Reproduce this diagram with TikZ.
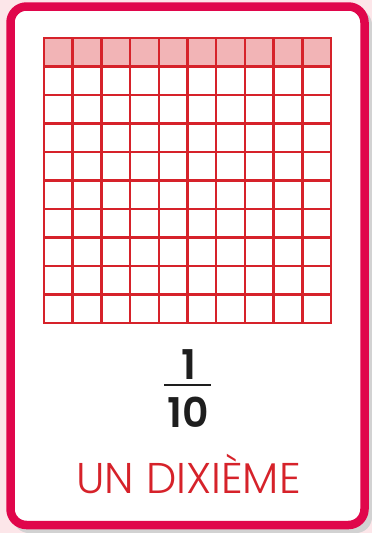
\documentclass[tikz,border=0pt]{standalone}
\usepackage{fontspec}
\setmainfont{Poppins}
\newfontfamily\lightfont{Poppins Light}
\newfontfamily\boldfont{Poppins SemiBold}
\definecolor{cardred}{HTML}{E0064B}
\definecolor{gridred}{HTML}{D6222A}
\definecolor{cellpink}{HTML}{F2B4B6}
\definecolor{bgpink}{HTML}{FCE6E9}
\definecolor{inkdark}{HTML}{1E1E1E}
\tikzset{
  gridline/.style={draw=gridred, line width=2.5pt, line cap=rect},
  cardframe/.style={draw=cardred, line width=8.5pt, rounded corners=16pt, fill=white},
  numtext/.style={font=\boldfont\fontsize{41}{41}\selectfont, text=inkdark, inner sep=0pt},
  labeltext/.style={font=\lightfont\fontsize{43}{43}\selectfont, text=gridred, inner sep=0pt}
}
\begin{document}
\begin{tikzpicture}[x=1pt,y=-1pt]
\useasboundingbox (0,0) rectangle (372,533);
\fill[bgpink] (0,0) rectangle (372,533);
\fill[gray!35] (13,9) [rounded corners=16pt] rectangle (372,533);
\draw[cardframe] (10.5,6.5) rectangle (364.5,525);
% top row fill
\fill[cellpink] (44,38) rectangle (331,66.5);
% grid
\foreach \i in {0,...,10} {
  \draw[gridline] ({44+\i*28.7},38) -- ({44+\i*28.7},323);
  \draw[gridline] (44,{38+\i*28.5}) -- (331,{38+\i*28.5});
}
\node[numtext, anchor=base] (one) at (189,379) {1};
\node[numtext, anchor=base] (ten) at (188,427) {10};
\draw[draw=inkdark, line width=2.4pt] (164,385) -- (211,385);
\node[labeltext, anchor=base] (label) at (188.5,493) {UN DIXIÈME};
\end{tikzpicture}
\end{document}
